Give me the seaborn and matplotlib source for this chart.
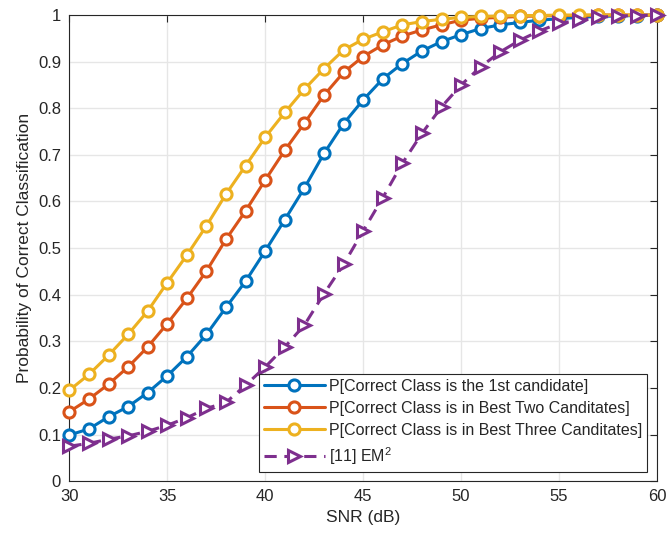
import matplotlib
matplotlib.use("Agg")
import matplotlib.pyplot as plt
import seaborn as sns
import numpy as np
import pandas as pd

snr = list(range(30, 61))
p_first = [0.099, 0.112, 0.138, 0.160, 0.190, 0.226, 0.267, 0.315, 0.373, 0.429,
           0.494, 0.561, 0.629, 0.703, 0.767, 0.818, 0.863, 0.896, 0.923, 0.943,
           0.958, 0.971, 0.979, 0.984, 0.989, 0.992, 0.995, 0.997, 0.998, 0.999, 1.0]
p_two = [0.149, 0.176, 0.208, 0.245, 0.288, 0.338, 0.392, 0.451, 0.519, 0.580,
         0.646, 0.710, 0.768, 0.828, 0.877, 0.911, 0.936, 0.955, 0.968, 0.979,
         0.989, 0.993, 0.995, 0.997, 0.998, 0.999, 0.999, 1.0, 1.0, 1.0, 1.0]
p_three = [0.195, 0.229, 0.270, 0.315, 0.365, 0.426, 0.485, 0.548, 0.616, 0.677,
           0.738, 0.791, 0.841, 0.885, 0.925, 0.948, 0.964, 0.979, 0.986, 0.991,
           0.995, 0.997, 0.998, 0.999, 0.999, 1.0, 1.0, 1.0, 1.0, 1.0, 1.0]
p_em2 = [0.075, 0.081, 0.090, 0.097, 0.107, 0.120, 0.136, 0.156, 0.169, 0.206,
         0.245, 0.288, 0.335, 0.402, 0.465, 0.537, 0.608, 0.682, 0.746, 0.803,
         0.850, 0.889, 0.921, 0.946, 0.966, 0.982, 0.989, 0.995, 0.998, 0.999, 1.0]

labels = ["P[Correct Class is the 1st candidate]",
          "P[Correct Class is in Best Two Canditates]",
          "P[Correct Class is in Best Three Canditates]",
          "[11] EM$^2$"]
colors = ["#0072BD", "#D95319", "#EDB120", "#7E2F8E"]

sns.set_style("whitegrid")
plt.rcParams['font.family'] = ['Liberation Sans', 'DejaVu Sans']
plt.rcParams['mathtext.fontset'] = 'custom'
plt.rcParams['mathtext.rm'] = 'Liberation Sans'

fig = plt.figure(figsize=(6.67, 5.37), dpi=100)
ax = fig.add_axes([0.104, 0.104, 0.881, 0.868])

series = [p_first, p_two, p_three]
for vals, lab, col in zip(series, labels[:3], colors[:3]):
    sns.lineplot(x=snr, y=vals, ax=ax, color=col, linewidth=2.2, marker='o',
                 markersize=8, markerfacecolor='white', markeredgecolor=col,
                 markeredgewidth=2.2, label=lab, clip_on=False, zorder=3)
sns.lineplot(x=snr, y=p_em2, ax=ax, color=colors[3], linewidth=2.2, marker='>',
             markersize=9, markerfacecolor='white', markeredgecolor=colors[3],
             markeredgewidth=2.2, linestyle=(0, (4, 2.5)), label=labels[3],
             clip_on=False, zorder=3)

ax.set_xlim(30, 60)
ax.set_ylim(0, 1)
ax.set_xticks(np.arange(30, 61, 5))
ax.set_yticks(np.round(np.arange(0, 1.01, 0.1), 1))
ax.set_yticklabels(["0", "0.1", "0.2", "0.3", "0.4", "0.5", "0.6", "0.7", "0.8", "0.9", "1"])
ax.grid(True, color="#e6e6e6", linewidth=1)
for s in ax.spines.values():
    s.set_color("#262626")
    s.set_linewidth(0.8)
    s.set_visible(True)
ax.tick_params(direction='in', length=5, width=0.8, top=True, right=True,
               labelsize=12, colors="#262626", pad=6)
ax.set_xlabel("SNR (dB)", fontsize=12.5, color="#262626")
ax.set_ylabel("Probability of Correct Classification", fontsize=12.5, color="#262626")

leg = ax.legend(loc='lower right', fontsize=11.5, frameon=True, fancybox=False,
                edgecolor="#262626", framealpha=1, handlelength=3.8,
                borderaxespad=0.6, labelspacing=0.45, borderpad=0.3, handletextpad=0.3)
leg.get_frame().set_linewidth(0.8)
leg.set_zorder(5)

fig.savefig("out.png", dpi=100)
